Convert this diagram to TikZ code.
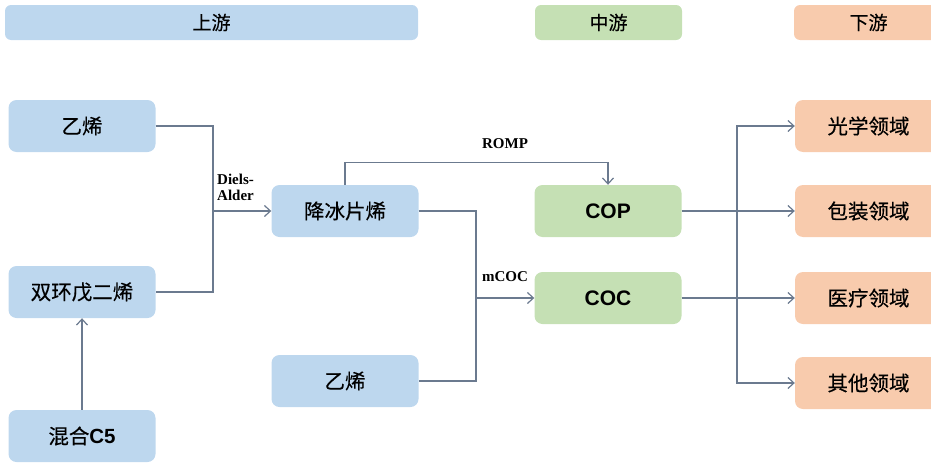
\documentclass[tikz,border=0pt]{standalone}
\usepackage{fontspec}
\usetikzlibrary{arrows.meta}
\newfontfamily\cjk[FakeBold=0.4]{Noto Sans CJK SC}
\newfontfamily\cjkhead[FakeBold=0.2]{Noto Sans CJK SC}
\newfontfamily\latb{Liberation Sans}
\newfontfamily\lblf{Liberation Serif}
\definecolor{upblue}{HTML}{BDD7EE}
\definecolor{midgreen}{HTML}{C5E0B4}
\definecolor{downorange}{HTML}{F8CBAD}
\definecolor{linegray}{HTML}{6B7A8F}

\begin{document}
\begin{tikzpicture}[x=1pt, y=-1pt,
		box/.style={rounded corners=8pt, minimum width=147pt, minimum height=52pt, inner sep=0pt, font=\cjk\fontsize{20.5}{23}\selectfont},
		head/.style={rounded corners=6pt, minimum height=35pt, inner sep=0pt, font=\cjkhead\fontsize{19}{21}\selectfont},
		conn/.style={draw=linegray, line width=1.2pt},
		arr/.style={conn, -{Straight Barb[length=6pt, width=11pt]}},
		lbl/.style={font=\lblf\bfseries\fontsize{15}{16}\selectfont}]
	\clip (0,0) rectangle (931,463);
	% stages
	\node (hup)   at (211.5,22.5) [head, fill=upblue, minimum width=413pt] {上游};
	\node (hmid)  at (608.5,22.5) [head, fill=midgreen, minimum width=147pt] {中游};
	\node (hdown) at (868.5,22.5) [head, fill=downorange, minimum width=149pt] {下游};
	% upstream
	\node (eth1) at (82,126)   [box, fill=upblue] {乙烯};
	\node (dcpd) at (82,292)   [box, fill=upblue] {双环戊二烯};
	\node (c5)   at (82,436)   [box, fill=upblue] {混合{\latb\bfseries C5}};
	\node (nb)   at (345,211)  [box, fill=upblue] {降冰片烯};
	\node (eth2) at (345,381)  [box, fill=upblue] {乙烯};
	% midstream
	\node (cop) at (608,211) [box, fill=midgreen, font=\latb\bfseries\fontsize{21}{23}\selectfont] {COP};
	\node (coc) at (608,298) [box, fill=midgreen, font=\latb\bfseries\fontsize{21}{23}\selectfont] {COC};
	% downstream
	\node (opt)  at (868.5,126) [box, fill=downorange] {光学领域};
	\node (pack) at (868.5,211) [box, fill=downorange] {包装领域};
	\node (med)  at (868.5,298) [box, fill=downorange] {医疗领域};
	\node (oth)  at (868.5,383) [box, fill=downorange] {其他领域};
	% labels
	\node (da)   at (217,187) [lbl, anchor=west, align=left, inner sep=0pt] {Diels-\\Alder};
	\node (romp) at (505,144) [lbl] {ROMP};
	\node (mcoc) at (505,277) [lbl] {mCOC};
	% junctions
	\coordinate (j1) at (213,211);
	\coordinate (j2) at (476,298);
	\coordinate (j3) at (737,211);
	\coordinate (j4) at (737,298);
	% connectors
	\draw[conn] (eth1.east) -| (j1) |- (dcpd.east);
	\draw[arr] (j1) -- (nb.west);
	\draw[arr] (c5) -- (dcpd);
	\draw[arr] (nb.north) -- ++(0,-22) -| (cop.north);
	\draw[conn] (nb.east) -| (j2) |- (eth2.east);
	\draw[arr] (j2) -- (coc.west);
	\draw[arr] (cop.east) -- (pack.west);
	\draw[arr] (coc.east) -- (med.west);
	\draw[conn] (j3) -- (j4);
	\draw[arr] (j3) |- (opt.west);
	\draw[arr] (j4) |- (oth.west);
\end{tikzpicture}
\end{document}
